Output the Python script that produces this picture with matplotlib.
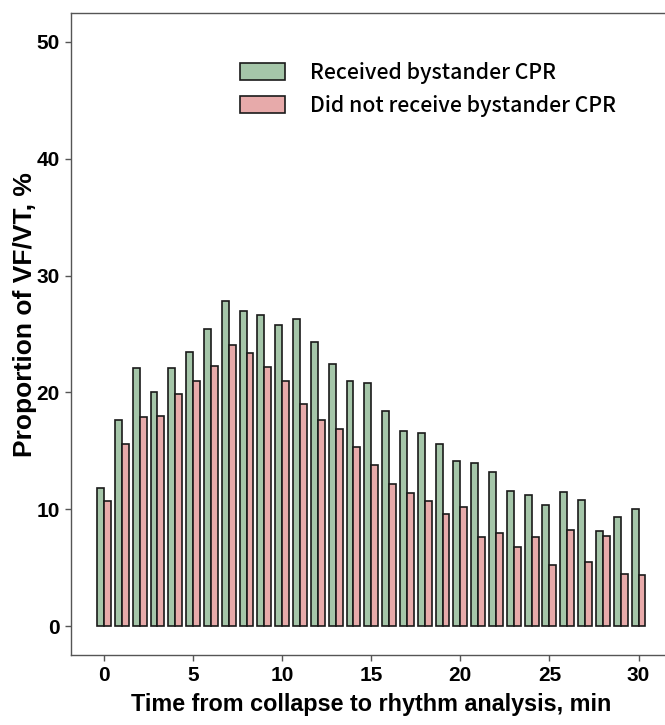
import matplotlib
matplotlib.use("Agg")
import matplotlib.pyplot as plt
from matplotlib.patches import Patch
import numpy as np

# Minutes from collapse to first rhythm analysis
minutes = list(range(0, 31))

# Proportion of VF/VT (%) by bystander CPR status
received_cpr = [11.8, 17.6, 22.1, 20.0, 22.1, 23.5, 25.4, 27.8, 27.0, 26.6,
                25.8, 26.3, 24.3, 22.4, 21.0, 20.8, 18.4, 16.7, 16.5, 15.6,
                14.1, 14.0, 13.2, 11.6, 11.2, 10.4, 11.5, 10.8, 8.1, 9.3,
                10.0]
no_cpr = [10.7, 15.6, 17.9, 18.0, 19.9, 21.0, 22.3, 24.1, 23.4, 22.2,
          21.0, 19.0, 17.6, 16.9, 15.3, 13.8, 12.2, 11.4, 10.7, 9.6,
          10.2, 7.6, 8.0, 6.8, 7.6, 5.2, 8.2, 5.5, 7.7, 4.5,
          4.4]

labels = ["Received bystander CPR", "Did not receive bystander CPR"]
green = "#a5c6a9"
pink = "#e7aaaa"

fig = plt.figure(figsize=(6.65, 7.25), dpi=100)
# axes run past the right edge of the figure on purpose
ax = fig.add_axes([0.1063, 0.0961, 0.904, 0.8863])

x = np.array(minutes)
w = 0.39
ax.bar(x - w / 2, received_cpr, width=w, color=green, edgecolor="#1a1a1a",
       linewidth=1.2)
ax.bar(x + w / 2, no_cpr, width=w, color=pink, edgecolor="#1a1a1a",
       linewidth=1.2)

ax.set_xlim(-1.87, 31.87)
ax.set_ylim(-2.5, 52.5)
ax.set_xticks(range(0, 31, 5))
ax.set_yticks(range(0, 51, 10))

for s in ax.spines.values():
    s.set_color("#555555")
    s.set_linewidth(1.0)

ax.tick_params(axis="both", colors="#555555", length=4, width=1.0,
               labelcolor="black", labelsize=15, pad=4)
for t in ax.get_xticklabels() + ax.get_yticklabels():
    t.set_fontfamily("Liberation Sans")
    t.set_fontweight("bold")

ax.set_xlabel("Time from collapse to rhythm analysis, min",
              fontfamily="Liberation Sans", fontweight="bold",
              fontsize=16.8)
ax.set_ylabel("Proportion of VF/VT, %", fontfamily="Liberation Sans",
              fontweight="bold", fontsize=19)
ax.xaxis.set_label_coords(0.5, -0.077)
ax.yaxis.set_label_coords(-0.076, 0.53)
ax.xaxis.label.set_va("center")
ax.yaxis.label.set_va("center")

handles = [Patch(facecolor=green, edgecolor="#1a1a1a", linewidth=1.2),
           Patch(facecolor=pink, edgecolor="#1a1a1a", linewidth=1.2)]
fig.legend(handles, labels, loc="upper left",
           bbox_to_anchor=(240 / 665, 1 - 62 / 725),
           bbox_transform=fig.transFigure, frameon=False,
           prop={"family": "Noto Sans CJK JP", "size": 15.3,
                 "weight": "medium"},
           handlelength=2.1, handleheight=0.88, handletextpad=1.2,
           labelspacing=0.5, borderpad=0, borderaxespad=0)

fig.savefig("out.png", dpi=100)
